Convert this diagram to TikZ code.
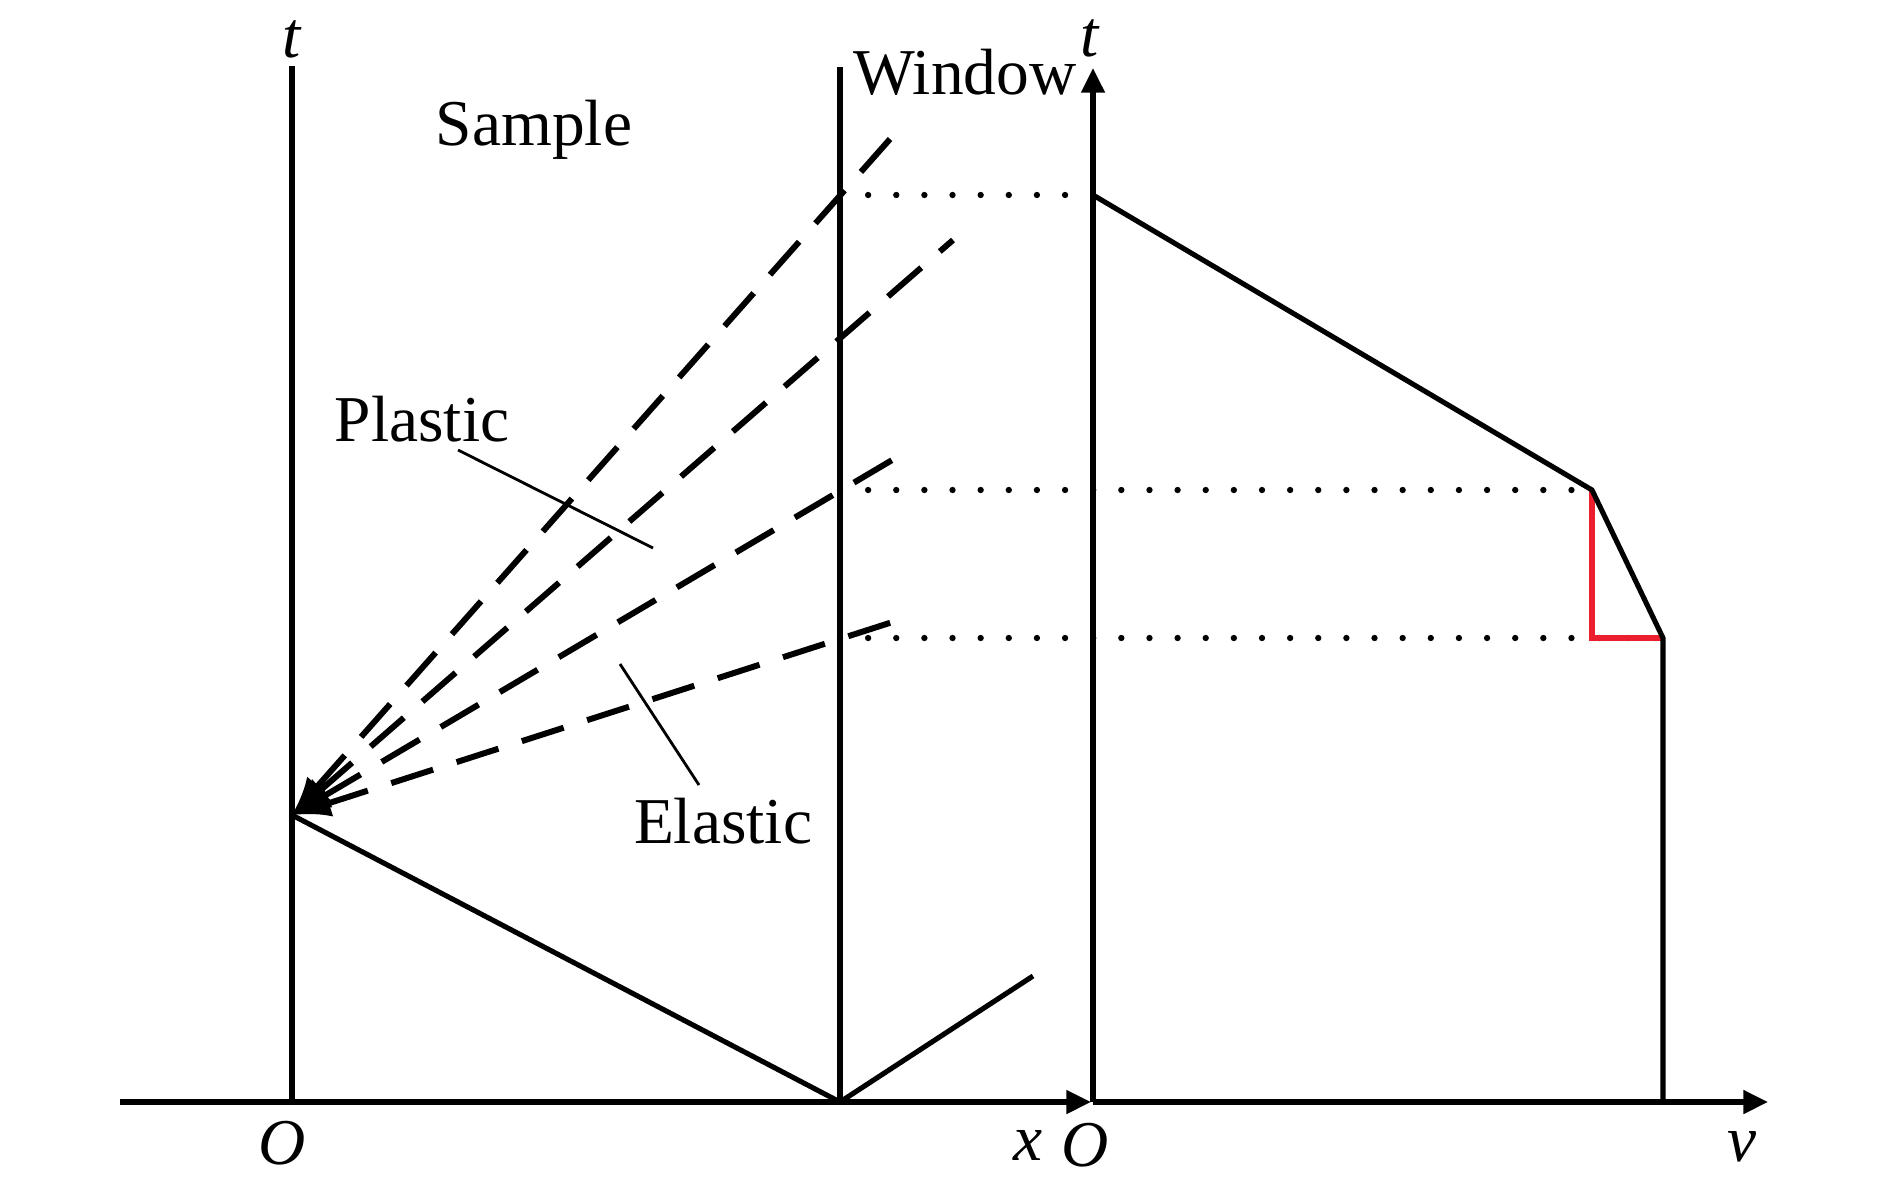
\documentclass[tikz,border=0pt]{standalone}
\usepackage{fontspec}
\setmainfont{Liberation Serif}
\usetikzlibrary{arrows.meta}
\begin{document}
\begin{tikzpicture}[x=0.01cm,y=-0.01cm,
  axis/.style={line width=1.45pt},
  axarrow/.style={axis,-{Triangle[length=7pt,width=6.5pt]}},
  wave/.style={line width=1.7pt, dash pattern=on 12.5pt off 7pt, {Latex[length=11pt,width=8pt]}-},
  guide/.style={line width=1.8pt, dash pattern=on 0pt off 8pt, line cap=round},
  lbl/.style={font=\fontsize{18.6}{20}\selectfont, inner sep=0pt},
  axl/.style={font=\fontsize{18.6}{20}\selectfont\itshape, inner sep=0pt},
  lead/.style={line width=0.8pt},
  redline/.style={line width=1.6pt, draw={rgb,255:red,235;green,30;blue,45}}]
\useasboundingbox (0,0) rectangle (1890,1184);
% coordinates
\coordinate (O1) at (292,1102);
\coordinate (T1) at (292,66);
\coordinate (Xs) at (120,1102);
\coordinate (Xe) at (1091,1102);
\coordinate (W0) at (840,1102);
\coordinate (W1) at (840,67);
\coordinate (O2) at (1093,1102);
\coordinate (T2) at (1093,68);
\coordinate (Ve) at (1768,1102);
\coordinate (P) at (292,815);
\coordinate (R) at (1033,976);
\coordinate (D1) at (898,130);
\coordinate (D2) at (953,240);
\coordinate (D3) at (904,453);
\coordinate (D4) at (905,618);
\coordinate (A) at (1093,195);
\coordinate (B) at (1592,490);
\coordinate (C) at (1663,638);
\coordinate (Cb) at (1663,1102);
\coordinate (B0) at (1592,638);
\coordinate (G1) at (840,195);
\coordinate (G2) at (840,490);
\coordinate (G3) at (840,638);
\coordinate (PL1) at (458,450);
\coordinate (PL2) at (653,548);
\coordinate (EL1) at (620,664);
\coordinate (EL2) at (699,785);
% axes
\draw[axis] (O1) -- (T1);
\draw[axis] (W0) -- (W1);
\draw[axarrow] (Xs) -- (Xe);
\draw[axarrow] (O2) -- (T2);
\draw[axarrow] (O2) -- (Ve);
% waves
\draw[axis] (P) -- (W0) -- (R);
\draw[wave] (P) -- (D1);
\draw[wave] (P) -- (D2);
\draw[wave] (P) -- (D3);
\draw[wave] (P) -- (D4);
% dotted guides
\draw[guide] (G1) -- (A);
\draw[guide] (G2) -- (B);
\draw[guide] (G3) -- (C);
% velocity profile
\draw[redline] (B) -- (B0) -- (C);
\draw[axis] (A) -- (B) -- (C) -- (Cb);
% leaders
\draw[lead] (PL1) -- (PL2);
\draw[lead] (EL1) -- (EL2);
% labels
\node[lbl] (sample) at (534,130) {Sample};
\node[lbl] (window) at (965,72) {Window};
\node[lbl] (plastic) at (422,419) {Plastic};
\node[lbl] (elastic) at (723,821) {Elastic};
\node[axl] (t1) at (292,39) {t};
\node[axl] (t2) at (1090,38) {t};
\node[axl] (o1) at (282,1143) {O};
\node[axl] (x) at (1028,1145) {x};
\node[axl] (o2) at (1085,1145) {O};
\node[axl] (v) at (1742,1147) {v};
\end{tikzpicture}
\end{document}
